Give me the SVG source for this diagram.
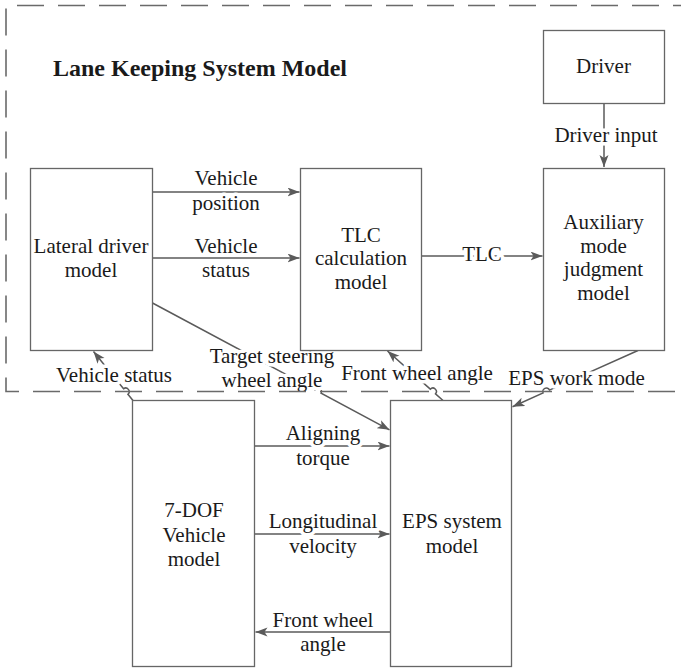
<svg xmlns="http://www.w3.org/2000/svg" width="681" height="669" viewBox="0 0 681 669">
<style>
.box{fill:#fff;stroke:#666;stroke-width:1.3}
.ln{fill:none;stroke:#5a5a5a;stroke-width:1.5}
.t{font-family:"Liberation Serif","Times New Roman",serif;font-size:21px;fill:#1a1a1a;text-anchor:middle}
.h{stroke:#fff;stroke-width:7;stroke-linejoin:round;paint-order:stroke}
.title{font-family:"Liberation Serif","Times New Roman",serif;font-size:24px;font-weight:bold;fill:#1a1a1a}
.bd{fill:none;stroke:#6a6a6a;stroke-width:1.6;stroke-dasharray:27 14}
</style>
<defs>
<marker id="ar" markerUnits="userSpaceOnUse" markerWidth="14" markerHeight="10" refX="12" refY="4.5" orient="auto">
<path d="M0,0 L12,4.5 L0,9 L3,4.5 z" fill="#5a5a5a"/>
</marker>
</defs>
<rect width="681" height="669" fill="#fff"/>
<text class="title" x="53" y="76">Lane Keeping System Model</text>
<g id="connectors">
<path class="ln" d="M604,103.5 V167" marker-end="url(#ar)"/>
<path class="ln" d="M152.5,192 H299.5" marker-end="url(#ar)"/>
<path class="ln" d="M152.5,258 H299.5" marker-end="url(#ar)"/>
<path class="ln" d="M421.5,256 H542.5" marker-end="url(#ar)"/>
<path class="ln" d="M254.5,446 H389.5" marker-end="url(#ar)"/>
<path class="ln" d="M254.5,534 H389.5" marker-end="url(#ar)"/>
<path class="ln" d="M390.5,632 H255.5" marker-end="url(#ar)"/>
<path class="ln" d="M133,400.5 L127.93,394.22 A3.5,3.5 0 0 0 123.53,388.78 L93.5,351.5" marker-end="url(#ar)"/>
<path class="ln" d="M152.5,303 L314.91,389.85 A3.5,3.5 0 0 1 321.09,393.15 L389.5,429.8" marker-end="url(#ar)"/>
<path class="ln" d="M443,400.5 L435.53,393.83 A3.5,3.5 0 0 0 430.31,389.17 L387.5,351" marker-end="url(#ar)"/>
<path class="ln" d="M638,350.5 L549.49,390.06 A3.5,3.5 0 0 0 543.11,392.94 L512.5,406.8" marker-end="url(#ar)"/>
<text class="t h" x="606" y="142">Driver input</text>
<text class="t h" x="226" y="185">Vehicle</text>
<text class="t h" x="226" y="210">position</text>
<text class="t h" x="226" y="253">Vehicle</text>
<text class="t h" x="226" y="277">status</text>
<text class="t h" x="482" y="261">TLC</text>
<text class="t h" x="114" y="382">Vehicle status</text>
<text class="t h" x="272" y="363">Target steering</text>
<text class="t h" x="272" y="387">wheel angle</text>
<text class="t h" x="417" y="380">Front wheel angle</text>
<text class="t h" x="576.5" y="385">EPS work mode</text>
<text class="t h" x="323" y="440">Aligning</text>
<text class="t h" x="323" y="465">torque</text>
<text class="t h" x="323" y="528">Longitudinal</text>
<text class="t h" x="323" y="553">velocity</text>
<text class="t h" x="323" y="627">Front wheel</text>
<text class="t h" x="323" y="651">angle</text>
</g>
<g id="driver">
<rect class="box" x="543.5" y="30.5" width="121" height="73"/>
<text class="t" x="603.5" y="73">Driver</text>
</g>
<g id="lateral">
<rect class="box" x="30.5" y="168.5" width="122" height="182"/>
<text class="t" x="91" y="253">Lateral driver</text>
<text class="t" x="91" y="277">model</text>
</g>
<g id="tlc">
<rect class="box" x="300.5" y="168.5" width="121" height="182"/>
<text class="t" x="361" y="241.5">TLC</text>
<text class="t" x="361" y="265">calculation</text>
<text class="t" x="361" y="288.5">model</text>
</g>
<g id="aux">
<rect class="box" x="543.5" y="168.5" width="121" height="182"/>
<text class="t" x="603.5" y="229">Auxiliary</text>
<text class="t" x="603.5" y="252.5">mode</text>
<text class="t" x="603.5" y="276">judgment</text>
<text class="t" x="603.5" y="299.5">model</text>
</g>
<g id="vehicle7dof">
<rect class="box" x="132.5" y="400.5" width="122" height="266"/>
<text class="t" x="194" y="517">7-DOF</text>
<text class="t" x="194" y="541.5">Vehicle</text>
<text class="t" x="194" y="565.5">model</text>
</g>
<g id="eps">
<rect class="box" x="390.5" y="400.5" width="121" height="266"/>
<text class="t" x="452" y="528">EPS system</text>
<text class="t" x="452" y="553">model</text>
</g>
<path class="bd" d="M700,5.5 H6 V391.5 H700"/>
</svg>
